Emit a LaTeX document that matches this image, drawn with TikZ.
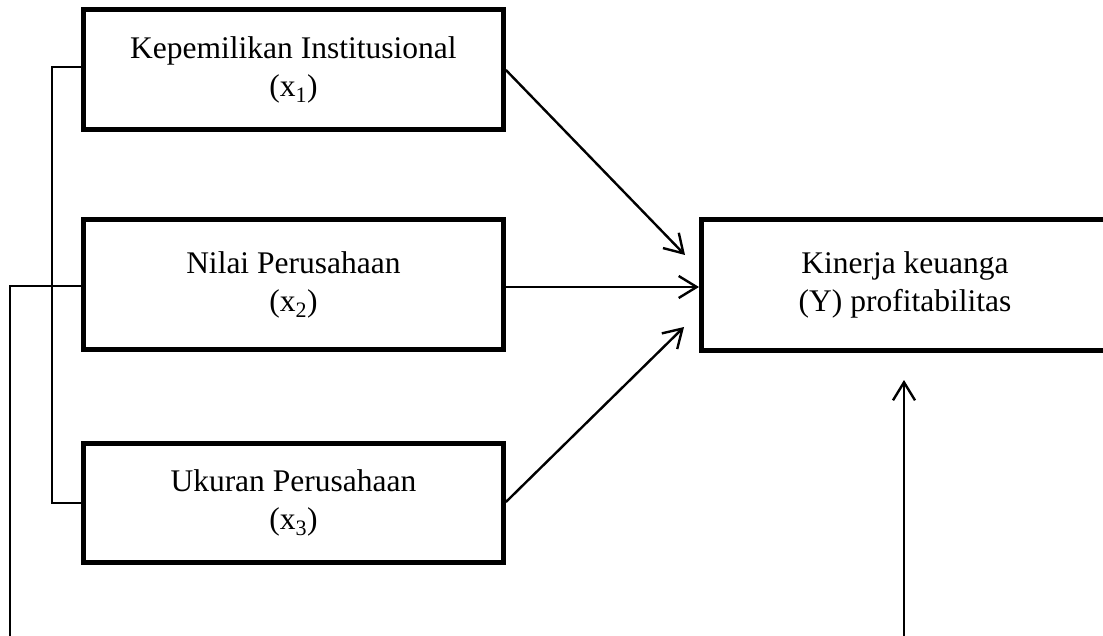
\documentclass[tikz,border=0pt]{standalone}
\usepackage{fontspec}
\setmainfont{Liberation Serif}
\usetikzlibrary{arrows.meta}
\tikzset{
  varbox/.style={draw=black, line width=5pt, align=center, inner sep=0pt,
    font=\fontsize{31.5}{38}\selectfont},
  link/.style={draw=black, line width=2pt},
  arr/.style={draw=black, line width=2.4pt, -{Straight Barb[length=18pt,width=22pt,line width=2.4pt]}}
}
\begin{document}
\begin{tikzpicture}[x=1pt,y=-1pt]
\useasboundingbox (0,0) rectangle (1103,636);
\node[varbox, minimum width=420pt, minimum height=120pt] (b1) at (293.4,70) {Kepemilikan Institusional\\(x\textsubscript{1})};
\node[varbox, minimum width=420pt, minimum height=130pt] (b2) at (293.4,284.5) {Nilai Perusahaan\\(x\textsubscript{2})};
\node[varbox, minimum width=420pt, minimum height=119pt] (b3) at (293.4,503) {Ukuran Perusahaan\\(x\textsubscript{3})};
\node[varbox, minimum width=407pt, minimum height=131pt] (y) at (905,285) {Kinerja keuanga\\(Y) profitabilitas};
% bracket linking x1 and x3
\coordinate (k1) at (52,67);
\coordinate (k3) at (52,503);
\draw[link] (b1.west |- k1) -- (k1) -- (k3) -- (b3.west |- k3);
% outer line from x2
\coordinate (o1) at (9.5,286);
\coordinate (o2) at (9.5,636);
\draw[link] (b2.west |- o1) -- (o1) -- (o2);
% arrows to Y
\coordinate (t1) at (685,255);
\coordinate (t3) at (684,327);
\draw[arr] (b1.east |- 0,70) -- (t1);
\draw[arr] (b2.east |- 0,287) -- (y.west |- 0,287);
\draw[arr] (b3.east |- 0,502) -- (t3);
% bottom arrow
\coordinate (u0) at (904,636);
\coordinate (u1) at (904,380);
\draw[arr] (u0) -- (u1);
\end{tikzpicture}
\end{document}
